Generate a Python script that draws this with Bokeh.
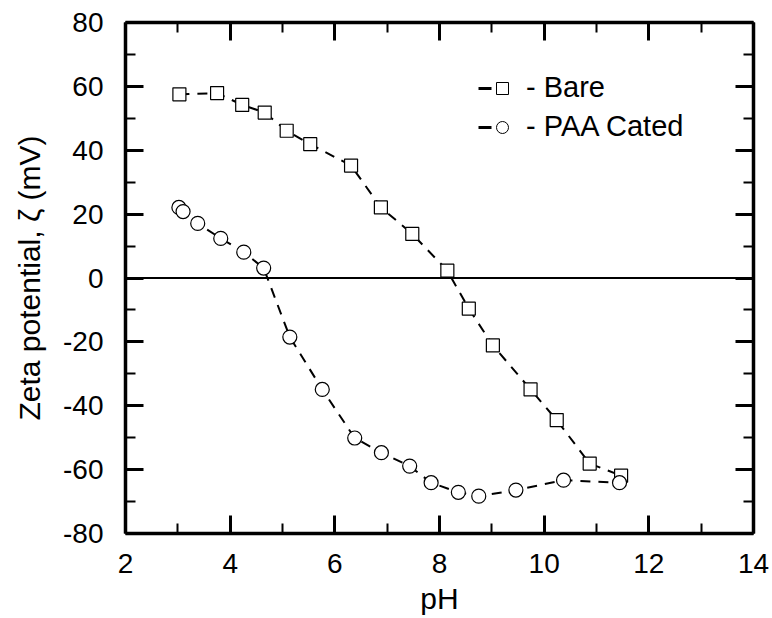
from bokeh.plotting import figure
from bokeh.models import (Range1d, LinearAxis, FixedTicker, Legend, LegendItem, Span,
                          PrintfTickFormatter)
from bokeh.embed import file_html
from bokeh.resources import INLINE

# Bare
bare_ph = [3.03, 3.75, 4.23, 4.66, 5.08, 5.53, 6.31, 6.88, 7.48, 8.15, 8.56, 9.02, 9.74, 10.24, 10.87, 11.47]
bare_zeta = [57.5, 57.9, 54.2, 51.8, 46.1, 41.9, 35.2, 22.1, 13.8, 2.3, -9.6, -21.1, -34.9, -44.5, -58.1, -61.9]

# PAA coated
paa_ph = [3.02, 3.10, 3.38, 3.82, 4.26, 4.64, 5.14, 5.76, 6.38, 6.89, 7.43, 7.84, 8.36, 8.75, 9.46, 10.37, 11.44]
paa_zeta = [22.1, 20.8, 17.1, 12.4, 8.1, 3.1, -18.5, -34.9, -50.1, -54.7, -58.9, -64.1, -67.1, -68.3, -66.4, -63.3, -64.1]

x_major = [2, 4, 6, 8, 10, 12, 14]
x_minor = [3, 5, 7, 9, 11, 13]
y_major = [-80, -60, -40, -20, 0, 20, 40, 60, 80]
y_minor = [-70, -50, -30, -10, 10, 30, 50, 70]

nan = float("nan")
FONT = "Liberation Sans"
FS = "28px"

p = figure(width=772, height=618, output_backend="svg", toolbar_location=None,
           x_range=Range1d(2, 14), y_range=Range1d(-80, 80),
           x_axis_location=None, y_axis_location=None,
           min_border_left=125, min_border_right=19, min_border_top=22, min_border_bottom=85)
p.grid.visible = False
p.outline_line_color = None
p.background_fill_color = "white"
p.border_fill_color = "white"

def style_axis(ax, labels=True):
    ax.axis_line_width = 3.5
    ax.axis_line_color = "black"
    ax.major_tick_in = 18
    ax.major_tick_out = 0
    ax.minor_tick_in = 10
    ax.minor_tick_out = 0
    ax.major_tick_line_width = 3
    ax.minor_tick_line_width = 2
    ax.major_tick_line_color = "black"
    ax.minor_tick_line_color = "black"
    ax.formatter = PrintfTickFormatter(format="%d")
    ax.major_label_text_font = FONT
    ax.major_label_text_font_size = FS
    ax.major_label_text_color = "black" if labels else None
    ax.axis_label_text_font = FONT
    ax.axis_label_text_font_size = "30px"
    ax.axis_label_text_font_style = "normal"
    ax.axis_label_text_color = "black"

xt = FixedTicker(ticks=x_major, minor_ticks=x_minor)
yt = FixedTicker(ticks=y_major, minor_ticks=y_minor)

bottom = LinearAxis(ticker=xt, axis_label="pH")
style_axis(bottom)
bottom.major_label_standoff = 20
bottom.axis_label_standoff = 6
top = LinearAxis(ticker=xt)
style_axis(top, labels=False)
left = LinearAxis(ticker=yt, axis_label="Zeta potential, \u03b6 (mV)")
style_axis(left)
left.major_label_standoff = 22
left.axis_label_standoff = 14
right = LinearAxis(ticker=yt)
style_axis(right, labels=False)

p.add_layout(bottom, "below")
p.add_layout(top, "above")
p.add_layout(left, "left")
p.add_layout(right, "right")

p.add_layout(Span(location=0, dimension="width", line_color="black", line_width=2))

lb = p.line(bare_ph, bare_zeta, line_color="black", line_width=2, line_dash="10 8")
sb = p.scatter(bare_ph, bare_zeta, marker="square", size=13, fill_color="white",
               line_color="black", line_width=1.2)
lp = p.line(paa_ph, paa_zeta, line_color="black", line_width=2, line_dash="10 8")
sp = p.scatter(paa_ph, paa_zeta, marker="circle", size=14, fill_color="white",
               line_color="black", line_width=1.2)

# legend-only glyphs (no visible data)
leg_l = p.line([nan], [nan], line_color="black", line_width=3, line_dash="13 100")
leg_sq = p.scatter([nan], [nan], marker="square", size=10, fill_color="white", line_color="black", line_width=1)
leg_ci = p.scatter([nan], [nan], marker="circle", size=11, fill_color="white", line_color="black", line_width=1)

legend = Legend(items=[LegendItem(label="- Bare", renderers=[leg_l, leg_sq]),
                       LegendItem(label="- PAA Cated", renderers=[leg_l, leg_ci])],
                location=(353, 390), padding=0, margin=0, spacing=6,
                label_height=30, glyph_height=30, glyph_width=48, label_standoff=0,
                label_text_font=FONT, label_text_font_size="29px", label_text_color="black",
                background_fill_alpha=0, border_line_color=None)
p.add_layout(legend, "center")

open("out.html", "w").write(file_html(p, INLINE))
